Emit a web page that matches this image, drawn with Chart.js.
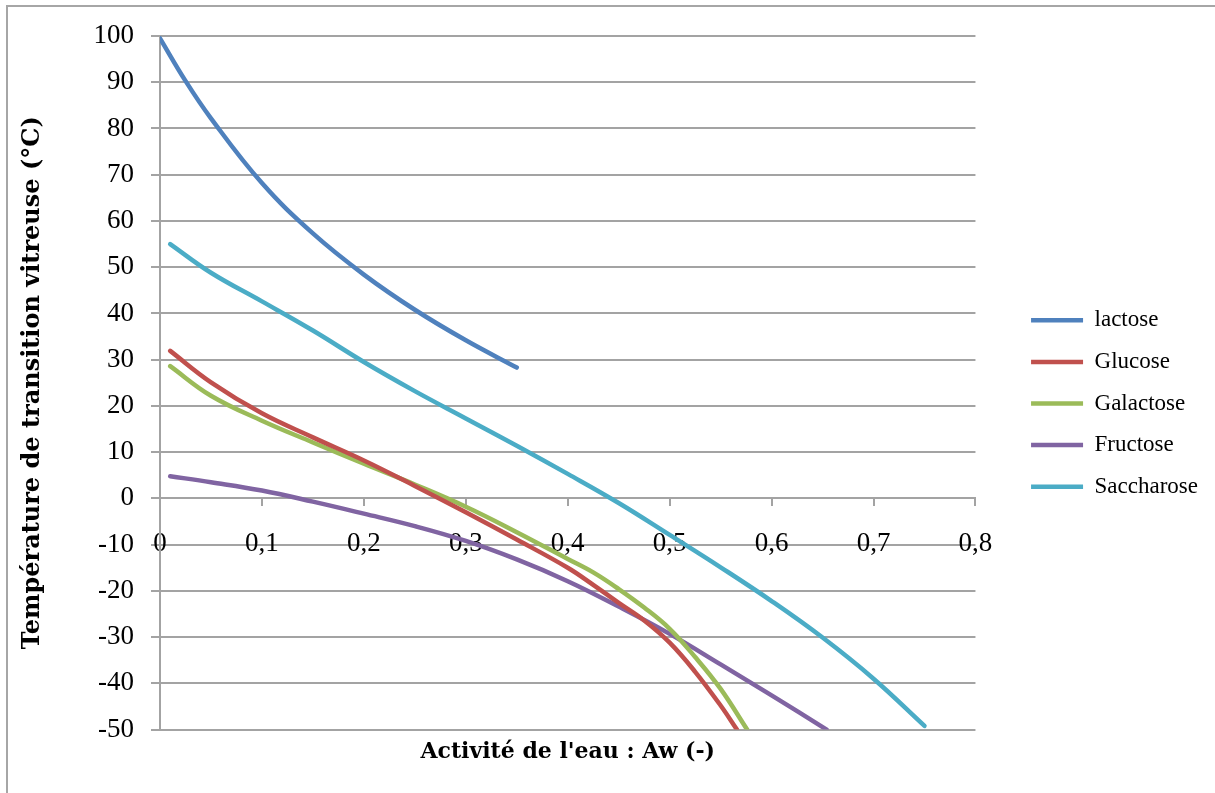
<!DOCTYPE html>
<html>
<head>
<meta charset="utf-8">
<script src="https://cdn.jsdelivr.net/npm/chart.js@4"></script>
<style>
  html, body { margin: 0; padding: 0; background: #fff; }
  #wrap { width: 1215px; height: 793px; position: relative; }
</style>
</head>
<body>
<div id="wrap"><canvas id="chartTg"></canvas></div>
<script>
// ── DONNÉES ────────────────────────────────────────────────────────────────
const awLactose = [0, 0.025, 0.05, 0.1, 0.15, 0.2, 0.25, 0.3, 0.35];
const tgLactose = [99.5, 90.3, 82.2, 68.2, 57.3, 48.4, 40.8, 34.2, 28.3];

const awGlucose = [0.01, 0.05, 0.1, 0.15, 0.2, 0.25, 0.3, 0.35, 0.4, 0.425, 0.45, 0.475, 0.5, 0.525, 0.55, 0.566];
const tgGlucose = [31.9, 25.1, 18.4, 13.2, 8.2, 2.7, -3.0, -8.9, -15.0, -18.7, -22.6, -26.4, -31.2, -37.5, -44.8, -50];

const awGalactose = [0.01, 0.05, 0.1, 0.15, 0.2, 0.25, 0.3, 0.35, 0.4, 0.425, 0.45, 0.475, 0.5, 0.525, 0.55, 0.576];
const tgGalactose = [28.6, 22.2, 16.8, 12.1, 7.5, 3.0, -1.8, -7.3, -13.1, -16.0, -19.6, -23.6, -28.2, -34.3, -41.2, -50];

const awFructose = [0.01, 0.05, 0.1, 0.15, 0.2, 0.25, 0.3, 0.35, 0.4, 0.45, 0.5, 0.55, 0.6, 0.654];
const tgFructose = [4.8, 3.5, 1.7, -0.7, -3.3, -6.0, -9.2, -13.2, -17.9, -23.4, -29.3, -35.9, -42.6, -50];

const awSaccharose = [0.01, 0.05, 0.1, 0.15, 0.2, 0.25, 0.3, 0.35, 0.4, 0.45, 0.5, 0.55, 0.6, 0.65, 0.7, 0.75];
const tgSaccharose = [55, 48.8, 42.6, 36.3, 29.5, 23.2, 17.3, 11.4, 5.3, -1.0, -7.9, -14.9, -22.2, -30.1, -39.0, -49.2];

const seriesNames = ['lactose', 'Glucose', 'Galactose', 'Fructose', 'Saccharose'];
const xTickLabels = ['0', '0,1', '0,2', '0,3', '0,4', '0,5', '0,6', '0,7', '0,8'];

const COLORS = ['#4f81bd', '#c0504d', '#9bbb59', '#8064a2', '#4bacc6'];
const GRID = '#a3a3a3';
const FONT = "'Liberation Serif', 'DejaVu Serif', serif";
const TITLE_FONT = "'DejaVu Serif', serif";

const toPoints = (xs, ys) => xs.map((x, i) => ({ x, y: ys[i] }));
const allX = [awLactose, awGlucose, awGalactose, awFructose, awSaccharose];
const allY = [tgLactose, tgGlucose, tgGalactose, tgFructose, tgSaccharose];

// cadre gris du graphique (seulement haut et gauche visibles)
const frame = {
  id: 'frame',
  beforeDraw(chart) {
    const ctx = chart.ctx;
    ctx.save();
    ctx.strokeStyle = '#a6a6a6';
    ctx.lineWidth = 2;
    ctx.beginPath();
    ctx.moveTo(7, 800); ctx.lineTo(7, 6); ctx.lineTo(1230, 6);
    ctx.stroke();
    ctx.restore();
  }
};

// décale la légende comme dans Excel
const nudgeLegend = {
  id: 'nudgeLegend',
  afterLayout(chart) {
    const lg = chart.legend;
    lg.left += 37; lg.right += 37;
    lg.top -= 7; lg.bottom -= 7;
  }
};

Chart.defaults.font.family = FONT;
Chart.defaults.color = '#000';

new Chart(document.getElementById('chartTg'), {
  type: 'line',
  data: {
    datasets: seriesNames.map((name, i) => ({
      label: name,
      data: toPoints(allX[i], allY[i]),
      borderColor: COLORS[i],
      backgroundColor: COLORS[i],
      borderWidth: 4.5,
      borderCapStyle: 'round',
      pointRadius: 0,
      tension: 0.4,
      fill: false
    }))
  },
  options: {
    responsive: true, maintainAspectRatio: false, animation: false,
    layout: { padding: { top: 36, right: 44, bottom: 8, left: 0 } },
    plugins: {
      legend: {
        position: 'right',
        labels: { usePointStyle: true, pointStyle: 'line', pointStyleWidth: 52, padding: 18.6,
          font: { size: 23 }, color: '#000' }
      },
      title: {
        display: true, position: 'bottom', fullSize: false,
        text: "Activité de l'eau : Aw (-)",
        font: { family: TITLE_FONT, size: 22, weight: 'bold' }, color: '#000',
        padding: { top: 9, bottom: 20 }
      },
      tooltip: { enabled: false }
    },
    scales: {
      x: {
        type: 'linear', position: { y: 0 }, min: 0, max: 0.8,
        grid: { drawOnChartArea: false, drawTicks: true, tickLength: 7, color: GRID, lineWidth: 2 },
        border: { color: GRID, width: 2 },
        ticks: { stepSize: 0.1, padding: 22, font: { size: 27 }, color: '#000',
          callback: (v, i) => xTickLabels[i] }
      },
      y: {
        min: -50, max: 100,
        afterFit: s => { s.width = 160; },
        grid: { color: GRID, lineWidth: 2, tickLength: 9 },
        border: { color: GRID, width: 2 },
        ticks: { stepSize: 10, padding: 17, font: { size: 27 }, color: '#000' },
        title: { display: true, text: 'Température de transition vitreuse (°C)',
          font: { family: TITLE_FONT, size: 24, weight: 'bold' }, color: '#000', padding: { top: 18, bottom: 0 } }
      }
    }
  },
  plugins: [frame, nudgeLegend]
});
</script>
</body>
</html>
